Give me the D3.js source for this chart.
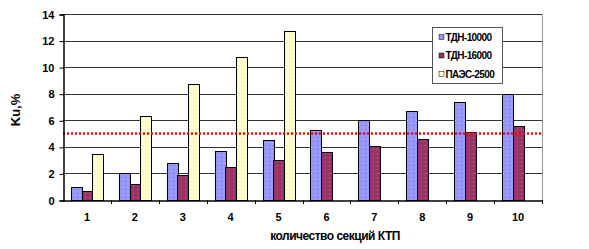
<!DOCTYPE html>
<html>
<head>
<meta charset="utf-8">
<script src="https://cdn.jsdelivr.net/npm/d3@7"></script>
<style>
  body { margin: 0; background: #fff; }
  svg { display: block; font-family: Arial, "Liberation Sans", sans-serif; }
</style>
</head>
<body>
<svg id="chart" width="589" height="249"></svg>
<script>
// chart data
var categories = ['1', '2', '3', '4', '5', '6', '7', '8', '9', '10'];
var tdn10000 = [1.0, 2.0, 2.8, 3.7, 4.5, 5.3, 6.0, 6.7, 7.4, 8.0];
var tdn16000 = [0.7, 1.2, 1.9, 2.5, 3.0, 3.6, 4.1, 4.6, 5.1, 5.6];
var paes2500 = [3.5, 6.3, 8.7, 10.8, 12.7, null, null, null, null, null];
var seriesNames = ['ТДН-10000', 'ТДН-16000', 'ПАЭС-2500'];
var seriesColors = ['#9999ff', '#993366', '#ffffcc'];
var yTicks = [0, 2, 4, 6, 8, 10, 12, 14];
var limitValue = 5;

var svg = d3.select('#chart');
var plotLeft = 63, plotRight = 542, plotTop = 14, plotBottom = 200;

var x = d3.scaleBand().domain(categories).range([plotLeft, plotRight]);
var y = d3.scaleLinear().domain([0, 14]).range([plotBottom, plotTop]);

var groupW = x.bandwidth() * 0.67;
var x1 = d3.scaleBand().domain([0, 1, 2]).range([0, groupW]);

// dotted fill patterns
var defs = svg.append('defs');
var dotColors = ['#6666dd', '#cc6699', '#eeee99'];
seriesColors.forEach(function (c, i) {
  var p = defs.append('pattern').attr('id', 'pat' + i)
      .attr('patternUnits', 'userSpaceOnUse').attr('width', 4).attr('height', 4);
  p.append('rect').attr('width', 4).attr('height', 4).attr('fill', c);
  p.append('rect').attr('x', 1).attr('y', 1).attr('width', 1).attr('height', 1).attr('fill', dotColors[i]);
});

// gridlines
svg.append('g').selectAll('line').data(yTicks.slice(1)).enter().append('line')
    .attr('x1', plotLeft).attr('x2', plotRight)
    .attr('y1', function (d) { return Math.round(y(d)) + 0.5; })
    .attr('y2', function (d) { return Math.round(y(d)) + 0.5; })
    .attr('stroke', '#333').attr('stroke-width', 1);

// right border of plot area
svg.append('line').attr('x1', plotRight + 0.5).attr('x2', plotRight + 0.5)
    .attr('y1', plotTop).attr('y2', plotBottom).attr('stroke', '#999');

// bars
var series = [tdn10000, tdn16000, paes2500];
series.forEach(function (vals, si) {
  var rows = vals.map(function (v, i) { return { cat: categories[i], v: v }; })
      .filter(function (d) { return d.v !== null; });
  svg.append('g').selectAll('rect').data(rows).enter().append('rect')
    .attr('x', function (d) { return Math.round(x(d.cat) + (x.bandwidth() - groupW) / 2 + x1(si)) + 0.5; })
    .attr('y', function (d) { return Math.round(y(d.v)) + 0.5; })
    .attr('width', Math.round(x1.bandwidth()))
    .attr('height', function (d) { return Math.round(y(0)) - Math.round(y(d.v)); })
    .attr('fill', 'url(#pat' + si + ')')
    .attr('stroke', '#000').attr('stroke-width', 1);
});

// limit line
svg.append('line').attr('x1', plotLeft).attr('x2', plotRight)
    .attr('y1', y(limitValue)).attr('y2', y(limitValue))
    .attr('stroke', '#ff0000').attr('stroke-width', 2.5).attr('stroke-dasharray', '2,2');

// y axis
var yAxis = d3.axisLeft(y).tickValues(yTicks).tickSize(4).tickPadding(5);
var yg = svg.append('g').attr('transform', 'translate(' + (plotLeft + 0.5) + ',0.5)').call(yAxis);
yg.select('.domain').attr('stroke', '#000').attr('stroke-width', 1.5);
yg.selectAll('.tick line').attr('stroke', '#000');
yg.selectAll('text').attr('font-size', 11).attr('font-weight', 'bold').attr('fill', '#000');

// x axis
var xAxis = d3.axisBottom(x).tickSize(0).tickPadding(13);
var xg = svg.append('g').attr('transform', 'translate(0,' + (plotBottom + 0.5) + ')').call(xAxis);
xg.select('.domain').attr('stroke', '#000').attr('stroke-width', 1.5);
xg.selectAll('text').attr('font-size', 11).attr('font-weight', 'bold').attr('fill', '#000');
svg.append('g').selectAll('line').data(categories).enter().append('line')
    .attr('x1', function (d) { return Math.round(x(d) + x.bandwidth()) + 0.5; })
    .attr('x2', function (d) { return Math.round(x(d) + x.bandwidth()) + 0.5; })
    .attr('y1', plotBottom).attr('y2', plotBottom + 4)
    .attr('stroke', '#000');

// axis titles
svg.append('text').attr('x', 335).attr('y', 240).attr('text-anchor', 'middle')
    .attr('font-size', 12).attr('font-weight', 'bold').attr('letter-spacing', -0.5)
    .text('количество секций КТП');
svg.append('text').attr('transform', 'translate(20,110) rotate(-90)').attr('text-anchor', 'middle')
    .attr('font-size', 13).attr('font-weight', 'bold')
    .text('Ku,%');

// legend
var lg = svg.append('g').attr('transform', 'translate(432,27)');
lg.append('rect').attr('x', 0.5).attr('y', 0.5).attr('width', 70).attr('height', 56)
    .attr('fill', '#fff').attr('stroke', '#555');
seriesNames.forEach(function (name, i) {
  var row = lg.append('g').attr('transform', 'translate(7,' + (10 + i * 18.5) + ')');
  row.append('rect').attr('x', 0).attr('y', -2.5).attr('width', 5).attr('height', 5)
      .attr('fill', seriesColors[i]).attr('stroke', '#000').attr('stroke-width', 0.5);
  row.append('text').attr('x', 6.5).attr('y', 3.5).attr('font-size', 10).attr('font-weight', 'bold')
      .attr('letter-spacing', -0.6).text(name);
});
</script>
</body>
</html>
